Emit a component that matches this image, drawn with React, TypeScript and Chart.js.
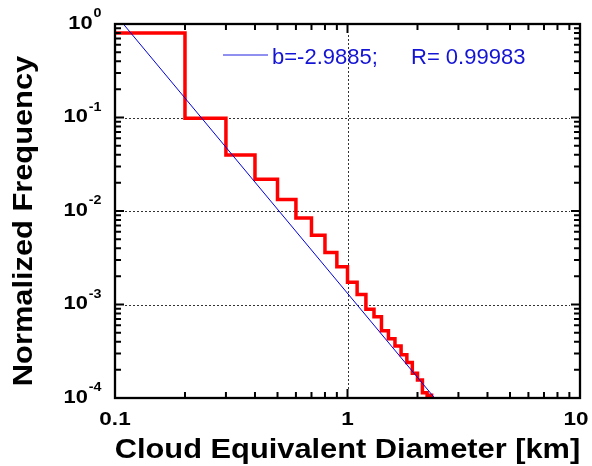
import { useEffect, useRef } from 'react';
import { Chart, registerables } from 'chart.js';

Chart.register(...registerables);

// Histogram bin edges (km) and normalized frequencies of each bin
const binEdges = [0.1, 0.2, 0.3, 0.4, 0.5, 0.6, 0.7, 0.8, 0.9, 1.0, 1.1, 1.2, 1.3, 1.4, 1.5, 1.6, 1.7, 1.8, 1.9, 2.0, 2.1, 2.2, 2.3];
const binFreq = [0.8, 0.098, 0.0397, 0.0218, 0.0133, 0.0084, 0.0055, 0.0036, 0.00254, 0.00173, 0.00128, 0.00089, 0.00074, 0.000525, 0.00043, 0.00036, 0.00029, 0.00024, 0.000184, 0.000156, 0.000114, 0.000107];
const tailFreq = 0.00005; // next bin falls below the axis

// Power-law fit line endpoints
const fitX = [0.1086, 2.37];
const fitY = [1, 0.0001];
const fitLabelB = 'b=-2.9885;';
const fitLabelR = 'R= 0.99983';

// Axis ticks
const xMajor = [0.1, 1, 10];
const xMajorLabels = ['0.1', '1', '10'];
const yMajor = [1, 0.1, 0.01, 0.001, 0.0001];
const yMajorExp = ['0', '-1', '-2', '-3', '-4'];
const xMinor = [0.2, 0.3, 0.4, 0.5, 0.6, 0.7, 0.8, 0.9, 2, 3, 4, 5, 6, 7, 8, 9];
const yMinorMult = [2, 3, 4, 5, 6, 7, 8, 9];
const yDecades = [0.1, 0.01, 0.001, 0.0001];

const xTitle = 'Cloud Equivalent Diameter [km]';
const yTitle = 'Normalized Frequency';

const FONT = '"Liberation Sans", Arial, sans-serif';

function drawText(ctx: CanvasRenderingContext2D, s: string, x: number, y: number, font: string, align: CanvasTextAlign, sx: number, color = '#000') {
  ctx.save();
  ctx.translate(x, y);
  ctx.scale(sx, 1);
  ctx.font = font;
  ctx.fillStyle = color;
  ctx.textAlign = align;
  ctx.textBaseline = 'alphabetic';
  ctx.fillText(s, 0, 0);
  ctx.restore();
}

const decorPlugin = {
  id: 'decor',
  beforeDatasetsDraw(chart: any) {
    const ctx = chart.ctx as CanvasRenderingContext2D;
    const { left, right, top, bottom } = chart.chartArea;
    const xs = chart.scales.x;
    const ys = chart.scales.y;
    ctx.save();
    ctx.strokeStyle = '#333';
    ctx.lineWidth = 1;
    ctx.setLineDash([2, 2]);
    ctx.beginPath();
    const gx = Math.round(xs.getPixelForValue(1)) + 0.5;
    ctx.moveTo(gx, bottom - 9);
    ctx.lineTo(gx, top + 9);
    [0.1, 0.01, 0.001].forEach((v) => {
      const gy = Math.round(ys.getPixelForValue(v)) + 0.5;
      ctx.moveTo(left + 10, gy);
      ctx.lineTo(right - 10, gy);
    });
    ctx.stroke();
    ctx.restore();
  },
  afterDatasetsDraw(chart: any) {
    const ctx = chart.ctx as CanvasRenderingContext2D;
    const { left, right, top, bottom } = chart.chartArea;
    const xs = chart.scales.x;
    const ys = chart.scales.y;
    ctx.save();
    ctx.strokeStyle = '#000';
    ctx.lineWidth = 2.3;
    ctx.setLineDash([]);
    ctx.strokeRect(left, top, right - left, bottom - top);
    ctx.lineWidth = 2;
    ctx.beginPath();
    const tickX = (v: number, len: number) => {
      const px = xs.getPixelForValue(v);
      ctx.moveTo(px, bottom);
      ctx.lineTo(px, bottom - len);
      ctx.moveTo(px, top);
      ctx.lineTo(px, top + len);
    };
    const tickY = (v: number, len: number) => {
      const py = ys.getPixelForValue(v);
      ctx.moveTo(left, py);
      ctx.lineTo(left + len, py);
      ctx.moveTo(right, py);
      ctx.lineTo(right - len, py);
    };
    xMinor.forEach((v) => tickX(v, 6));
    xMajor.forEach((v) => tickX(v, 9));
    yDecades.forEach((d) => yMinorMult.forEach((m) => tickY(d * m, 6)));
    yMajor.forEach((v) => tickY(v, 9));
    ctx.stroke();

    // x tick labels
    xMajor.forEach((v, i) => {
      let px = xs.getPixelForValue(v);
      if (i === xMajor.length - 1) px -= 4;
      drawText(ctx, xMajorLabels[i], px, 425, `bold 18px ${FONT}`, 'center', 1.25);
    });
    // y tick labels 10^n
    yMajor.forEach((v, i) => {
      const py = ys.getPixelForValue(v);
      ctx.font = `bold 13px ${FONT}`;
      const supSx = 1.1;
      const supW = ctx.measureText(yMajorExp[i]).width * supSx;
      const rightEdge = 101.5;
      drawText(ctx, yMajorExp[i], rightEdge - supW, py - 7, `bold 13px ${FONT}`, 'left', supSx);
      drawText(ctx, '10', rightEdge - supW - 1, py + 4.5, `bold 19px ${FONT}`, 'right', 1.15);
    });

    // axis titles
    drawText(ctx, xTitle, (left + right) / 2, 458, `bold 28px ${FONT}`, 'center', 1.1);
    ctx.save();
    ctx.translate(32, 221);
    ctx.rotate(-Math.PI / 2);
    drawText(ctx, yTitle, 0, 0, `bold 28px ${FONT}`, 'center', 1.1);
    ctx.restore();

    // legend
    ctx.strokeStyle = '#2020e0';
    ctx.lineWidth = 1;
    ctx.beginPath();
    ctx.moveTo(223, 55);
    ctx.lineTo(268, 55);
    ctx.stroke();
    drawText(ctx, fitLabelB, 272, 64, `22px ${FONT}`, 'left', 1, '#1414d4');
    drawText(ctx, fitLabelR, 411, 64, `22px ${FONT}`, 'left', 1, '#1414d4');
    ctx.restore();
  },
};

export default function App() {
  const ref = useRef<HTMLCanvasElement | null>(null);
  useEffect(() => {
    if (!ref.current) return;
    const histData = binEdges.map((e, i) => ({ x: e, y: i < binFreq.length ? binFreq[i] : tailFreq }));
    const fitData = fitX.map((x, i) => ({ x, y: fitY[i] }));
    const chart = new Chart(ref.current, {
      type: 'line',
      data: {
        datasets: [
          {
            label: 'fit',
            data: fitData,
            borderColor: '#0000dd',
            borderWidth: 1,
            pointRadius: 0,
            clip: 0,
          } as any,
          {
            label: 'hist',
            data: histData,
            borderColor: '#ff0000',
            borderWidth: 3.5,
            pointRadius: 0,
            stepped: true,
            clip: 0,
          } as any,
        ],
      },
      options: {
        animation: false,
        responsive: false,
        devicePixelRatio: 1,
        parsing: false as any,
        layout: { padding: { left: 115, right: 12, top: 24, bottom: 68 } },
        scales: {
          x: { type: 'logarithmic', min: 0.1, max: 10, display: false },
          y: { type: 'logarithmic', min: 0.0001, max: 1, display: false },
        },
        plugins: { legend: { display: false }, tooltip: { enabled: false } },
      },
      plugins: [decorPlugin],
    });
    return () => chart.destroy();
  }, []);
  return (
    <div style={{ position: 'fixed', left: 0, top: 0, width: 592, height: 466, background: '#fff' }}>
      <canvas ref={ref} width={592} height={466} />
    </div>
  );
}
